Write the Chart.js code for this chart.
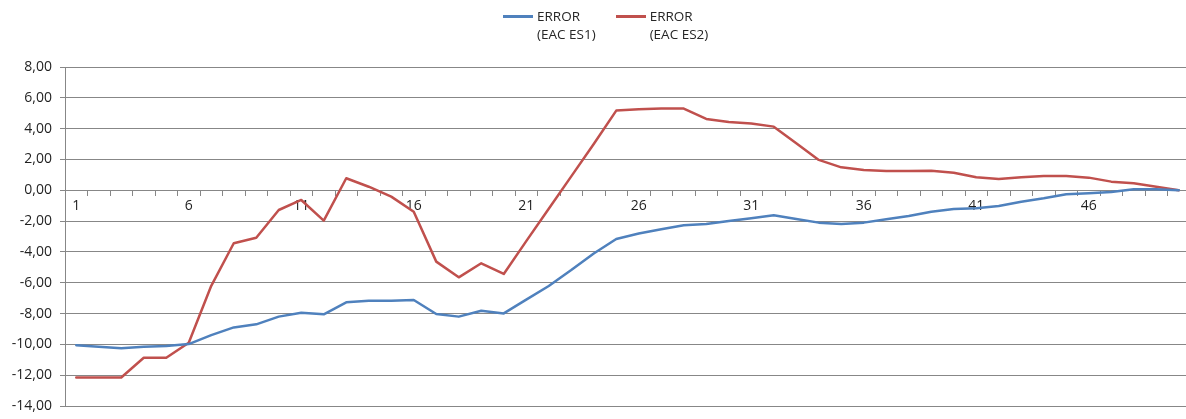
<!DOCTYPE html>
<html>
<head>
<meta charset="utf-8">
<script src="https://cdn.jsdelivr.net/npm/chart.js@4"></script>
<style>
    html, body { margin: 0; padding: 0; background: #fff; overflow: hidden; }
    #wrap { position: relative; width: 1190px; height: 419px; }
    #legend { position: absolute; top: 7px; left: 503px; display: flex;
              font-family: "Open Sans", sans-serif; font-size: 13.5px; line-height: 18px; color: #262626; }
    .item { display: flex; align-items: flex-start; margin-right: 20px; }
    .swatch { width: 30px; height: 3px; margin-top: 8px; margin-right: 4px; }
</style>
</head>
<body>
<div id="wrap">
    <div id="legend"></div>
    <canvas id="errorChart"></canvas>
</div>
<script>
// categories 1..50 along the x axis
const categories = [
    '1','2','3','4','5','6','7','8','9','10',
    '11','12','13','14','15','16','17','18','19','20',
    '21','22','23','24','25','26','27','28','29','30',
    '31','32','33','34','35','36','37','38','39','40',
    '41','42','43','44','45','46','47','48','49','50'
];
// only every fifth category gets a label
const shownLabels = ['1','6','11','16','21','26','31','36','41','46'];

const seriesNames = [['ERROR', '(EAC ES1)'], ['ERROR', '(EAC ES2)']];
const seriesColors = ['#4F81BD', '#C0504D'];

const errorES1 = [
    -10.05, -10.15, -10.26, -10.15, -10.1, -9.98, -9.4, -8.9, -8.7, -8.2,
    -7.95, -8.05, -7.27, -7.17, -7.17, -7.12, -8.03, -8.2, -7.82, -7.99,
    -7.1, -6.21, -5.18, -4.1, -3.16, -2.8, -2.53, -2.27, -2.19, -1.99,
    -1.82, -1.62, -1.86, -2.1, -2.19, -2.1, -1.88, -1.67, -1.39, -1.21,
    -1.17, -1.02, -0.74, -0.52, -0.26, -0.2, -0.11, 0.06, 0.06, 0
];
const errorES2 = [
    -12.15, -12.15, -12.15, -10.87, -10.87, -9.9, -6.2, -3.44, -3.08, -1.28,
    -0.63, -1.97, 0.78, 0.23, -0.41, -1.39, -4.63, -5.65, -4.74, -5.43,
    -3.3, -1.2, 0.9, 3.0, 5.17, 5.26, 5.3, 5.3, 4.63, 4.43,
    4.33, 4.13, 3.05, 1.97, 1.49, 1.32, 1.25, 1.25, 1.27, 1.14,
    0.84, 0.73, 0.84, 0.93, 0.93, 0.82, 0.56, 0.45, 0.23, 0
];

const yMin = -14;
const yMax = 8;
const yStep = 2;

const gridColor = '#878787';
const textFont = { family: '"Open Sans", sans-serif', size: 14 };

// html legend, two lines per entry
const legendDiv = document.getElementById('legend');
for (let i = 0; i < seriesNames.length; i++) {
    const item = document.createElement('div');
    item.className = 'item';
    const swatch = document.createElement('div');
    swatch.className = 'swatch';
    swatch.style.background = seriesColors[i];
    const text = document.createElement('div');
    text.innerHTML = seriesNames[i].join('<br>');
    item.appendChild(swatch);
    item.appendChild(text);
    legendDiv.appendChild(item);
}

new Chart('errorChart', {
    type: 'line',
    data: {
        labels: categories,
        datasets: [
            { label: seriesNames[0].join(' '), data: errorES1, borderColor: seriesColors[0] },
            { label: seriesNames[1].join(' '), data: errorES2, borderColor: seriesColors[1] }
        ]
    },
    options: {
        responsive: true,
        maintainAspectRatio: false,
        animation: false,
        layout: { padding: { top: 67, bottom: 13, left: 0, right: 0 } },
        elements: {
            line: { borderWidth: 2.5, tension: 0, borderCapStyle: 'round', borderJoinStyle: 'round' },
            point: { radius: 0, hoverRadius: 0 }
        },
        plugins: {
            legend: { display: false },
            tooltip: { enabled: false }
        },
        scales: {
            x: {
                type: 'category',
                offset: true,
                position: { y: 0 },
                grid: { offset: true, drawOnChartArea: false, drawTicks: true, tickLength: 5, color: gridColor },
                border: { display: true, color: gridColor, width: 1 },
                ticks: {
                    autoSkip: false,
                    maxRotation: 0,
                    padding: 2,
                    color: '#1f1f1f',
                    font: textFont,
                    callback: function (value, index) {
                        const lbl = this.getLabelForValue(value);
                        return shownLabels.includes(lbl) ? lbl : '';
                    }
                }
            },
            y: {
                min: yMin,
                max: yMax,
                afterFit: (scale) => {
                    scale.width = 65;
                    scale.paddingTop = 0;
                    scale.paddingBottom = 0;
                },
                grid: { color: gridColor, tickLength: 5, lineWidth: 1 },
                border: { display: true, color: gridColor },
                ticks: {
                    stepSize: yStep,
                    padding: 8,
                    color: '#1f1f1f',
                    font: textFont,
                    callback: (v) => v.toFixed(2).replace('.', ',')
                }
            }
        }
    }
});
</script>
</body>
</html>
